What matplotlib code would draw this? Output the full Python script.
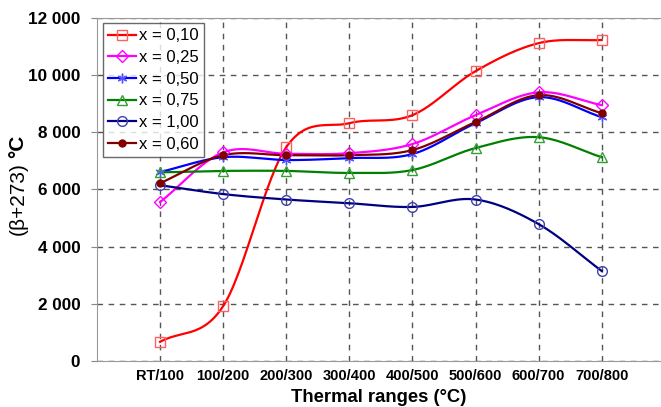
import matplotlib.pyplot as plt
import matplotlib.ticker as mticker
import numpy as np

plt.rcParams['font.family'] = ['Liberation Sans', 'DejaVu Sans']

categories = ["RT/100", "100/200", "200/300", "300/400", "400/500", "500/600", "600/700", "700/800"]

x010 = [670, 1920, 7480, 8320, 8600, 10140, 11120, 11230]
x025 = [5560, 7300, 7250, 7270, 7590, 8600, 9400, 8950]
x050 = [6610, 7130, 7030, 7100, 7240, 8320, 9230, 8530]
x075 = [6600, 6650, 6650, 6580, 6680, 7450, 7830, 7130]
x100 = [6150, 5840, 5650, 5520, 5390, 5650, 4790, 3150]
x060 = [6220, 7200, 7200, 7200, 7380, 8360, 9300, 8670]

series = [
    ("x = 0,10", x010, "red", "s", "#ff6060"),
    ("x = 0,25", x025, "magenta", "D", "magenta"),
    ("x = 0,50", x050, "blue", (6, 2, 0), "#5555ff"),
    ("x = 0,75", x075, "green", "^", "#33a033"),
    ("x = 1,00", x100, "navy", "o", "#4040b0"),
    ("x = 0,60", x060, "maroon", "o", "maroon"),
]


def smooth(xs, ys, n=30):
    # Catmull-Rom curve, like Excel's smoothed line
    xs = np.asarray(xs, float)
    ys = np.asarray(ys, float)
    px = np.concatenate([[2 * xs[0] - xs[1]], xs, [2 * xs[-1] - xs[-2]]])
    py = np.concatenate([[2 * ys[0] - ys[1]], ys, [2 * ys[-1] - ys[-2]]])
    ox, oy = [], []
    t = np.linspace(0, 1, n)
    for i in range(1, len(px) - 2):
        p0x, p1x, p2x, p3x = px[i - 1:i + 3]
        p0y, p1y, p2y, p3y = py[i - 1:i + 3]
        for arr, a, b, c, d in ((ox, p0x, p1x, p2x, p3x), (oy, p0y, p1y, p2y, p3y)):
            arr.extend(0.5 * (2 * b + (-a + c) * t + (2 * a - 5 * b + 4 * c - d) * t ** 2
                              + (-a + 3 * b - 3 * c + d) * t ** 3))
    return np.array(ox), np.array(oy)


fig = plt.figure(figsize=(6.61, 4.07), dpi=100)
ax = fig.add_axes([0.1467, 0.113, 0.8533, 0.8428])

xpos = np.arange(1, len(categories) + 1)
for label, vals, col, mk, mcol in series:
    sx, sy = smooth(xpos, vals)
    ax.plot(sx, sy, color=col, lw=1.6, zorder=3)
    if label == "x = 0,60":
        ax.plot(xpos, vals, ls='none', marker='o', ms=5, color=col, zorder=4)
        handle_kw = dict(marker='o', ms=5, mfc=col, mec=col)
    else:
        ms = 7 if mk != "D" else 6
        ax.plot(xpos, vals, ls='none', marker=mk, ms=ms, mfc='none', mec=mcol, mew=1.0, zorder=4)
        handle_kw = dict(marker=mk, ms=ms, mfc='none', mec=mcol, mew=1.0)
    ax.plot([], [], color=col, lw=1.6, label=label, **handle_kw)

ax.set_xlim(0, 8.94)
ax.set_ylim(0, 12000)
ax.set_xticks(xpos)
ax.set_xticklabels(categories)
ax.set_yticks(np.arange(0, 12001, 2000))
ax.yaxis.set_major_formatter(mticker.FuncFormatter(lambda v, p: f"{int(v):,}".replace(",", " ")))
ax.tick_params(axis='x', length=0, labelsize=10.5, pad=6)
ax.tick_params(axis='y', length=4, direction='out', color='#888888', labelsize=12.3, pad=8)
for lab in ax.get_xticklabels() + ax.get_yticklabels():
    lab.set_fontweight('bold')

ax.grid(True, ls=(0, (4, 4)), color='#555555', lw=1.0)
ax.set_axisbelow(True)
for s in ['left', 'bottom', 'top']:
    ax.spines[s].set_color('#999999')
ax.spines['right'].set_visible(False)

ax.set_xlabel("Thermal ranges (°C)", fontsize=13.3, fontweight='bold', labelpad=4)
fig.text(0.027, 0.423, "(β+273)", rotation=90, fontsize=15, ha='center', va='bottom')
fig.text(0.027, 0.670, "°C", rotation=90, fontsize=15, fontweight='bold', ha='center', va='top')

leg = ax.legend(loc='upper left', bbox_to_anchor=(0.004, 0.994), fontsize=12, frameon=True,
                fancybox=False, edgecolor='#444444', handlelength=1.7, handletextpad=0.2,
                borderpad=0.3, labelspacing=0.4, borderaxespad=0.2)
leg.get_frame().set_linewidth(1.0)

fig.savefig("out.png", dpi=100)
